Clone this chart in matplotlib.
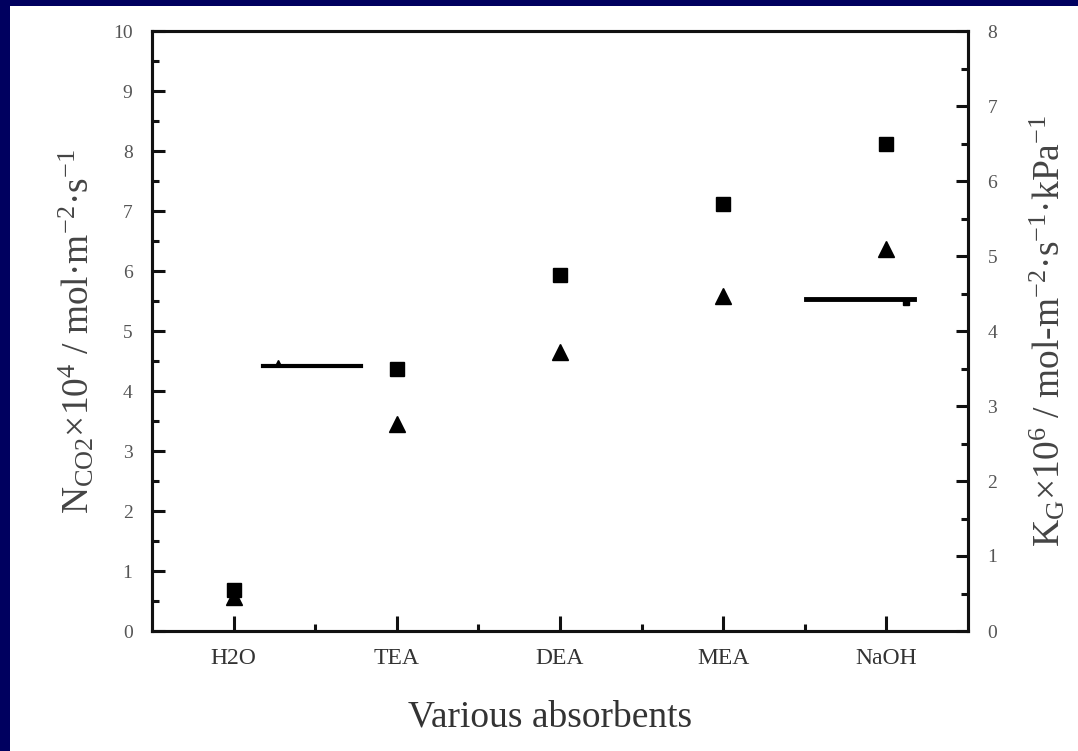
import matplotlib
matplotlib.use("Agg")
import matplotlib.pyplot as plt
from matplotlib.patches import Rectangle
from matplotlib.ticker import MultipleLocator, FixedLocator

# ---- data ----
categories = ["H2O", "TEA", "DEA", "MEA", "NaOH"]
flux_co2 = [0.68, 4.37, 5.94, 7.12, 8.12]      # left axis, squares
kg_values = [0.45, 2.76, 3.72, 4.47, 5.09]     # right axis, triangles
# short horizontal strokes (left-axis units) with tiny marks on them
seg1_x = [0.18, 0.78]
seg1_y = [4.42, 4.42]
seg1_mark_x = [0.27]
seg2_x = [3.51, 4.17]
seg2_y = [5.53, 5.53]
seg2_mark_x = [4.12]

plt.rcParams["font.family"] = ["Liberation Serif", "DejaVu Serif"]
plt.rcParams["mathtext.fontset"] = "custom"
plt.rcParams["mathtext.rm"] = "Liberation Serif"
plt.rcParams["mathtext.it"] = "Liberation Serif:italic"

W, H = 1078, 751
fig = plt.figure(figsize=(W / 100, H / 100), dpi=100)
fig.patch.set_facecolor("#00005F")
fig.patches.append(Rectangle((10 / W, 0), 1, 1 - 6 / H, transform=fig.transFigure,
                             facecolor="white", edgecolor="none", zorder=-10))

ax = fig.add_axes([152 / W, 1 - 631 / H, (968 - 152) / W, (631 - 31) / H])
ax.set_facecolor("white")
ax2 = ax.twinx()

x = list(range(len(categories)))
ax.plot(x, flux_co2, linestyle="none", marker="s", markersize=10, color="black")
ax2.plot(x, kg_values, linestyle="none", marker="^", markersize=11, color="black")

ax.plot(seg1_x, seg1_y, color="black", lw=3)
ax.plot(seg1_mark_x, [seg1_y[0] + 0.04], linestyle="none", marker="^",
        markersize=4, color="black")
ax.plot(seg2_x, seg2_y, color="black", lw=3.5)
ax.plot(seg2_mark_x, [seg2_y[0] - 0.04], linestyle="none", marker="s",
        markersize=4, color="black")

ax.set_xlim(-0.5, 4.5)
ax.set_ylim(0, 10)
ax2.set_ylim(0, 8)

ax.set_xticks(x)
ax.set_xticklabels(categories)
ax.xaxis.set_minor_locator(FixedLocator([0.5, 1.5, 2.5, 3.5]))
ax.yaxis.set_major_locator(MultipleLocator(1))
ax.yaxis.set_minor_locator(MultipleLocator(0.5))
ax2.yaxis.set_major_locator(MultipleLocator(1))
ax2.yaxis.set_minor_locator(MultipleLocator(0.5))

for a in (ax, ax2):
    for s in a.spines.values():
        s.set_linewidth(2.2)
        s.set_color("#111111")

ax.tick_params(axis="both", which="major", direction="in", length=9, width=2.2,
               colors="#111111", labelcolor="#555555", labelsize=14)
ax.tick_params(axis="y", which="major", pad=14)
ax.tick_params(axis="both", which="minor", direction="in", length=5, width=2.2,
               colors="#111111")
ax.tick_params(axis="x", which="major", length=11, labelsize=17,
               labelcolor="#333333", pad=12)
ax.tick_params(top=False, which="both")
ax2.tick_params(axis="y", which="major", direction="in", length=9, width=2.2,
                colors="#111111", labelcolor="#555555", labelsize=14, pad=14)
ax2.tick_params(axis="y", which="minor", direction="in", length=5, width=2.2,
                colors="#111111")

ax.set_xlabel("Various absorbents", fontsize=27, color="#333333", labelpad=24)
ax.xaxis.set_label_coords(0.488, -0.115)
ax.set_ylabel(r"N$_{\rm CO2}$×10$^{4}$ / mol·m$^{-2}$·s$^{-1}$", fontsize=27,
              color="#444444", labelpad=12)
ax2.set_ylabel(r"K$_{\rm G}$×10$^{6}$ / mol-m$^{-2}$·s$^{-1}$·kPa$^{-1}$", fontsize=27,
               color="#444444", rotation=90, labelpad=22)

fig.savefig("out.png", dpi=100, facecolor=fig.get_facecolor())
